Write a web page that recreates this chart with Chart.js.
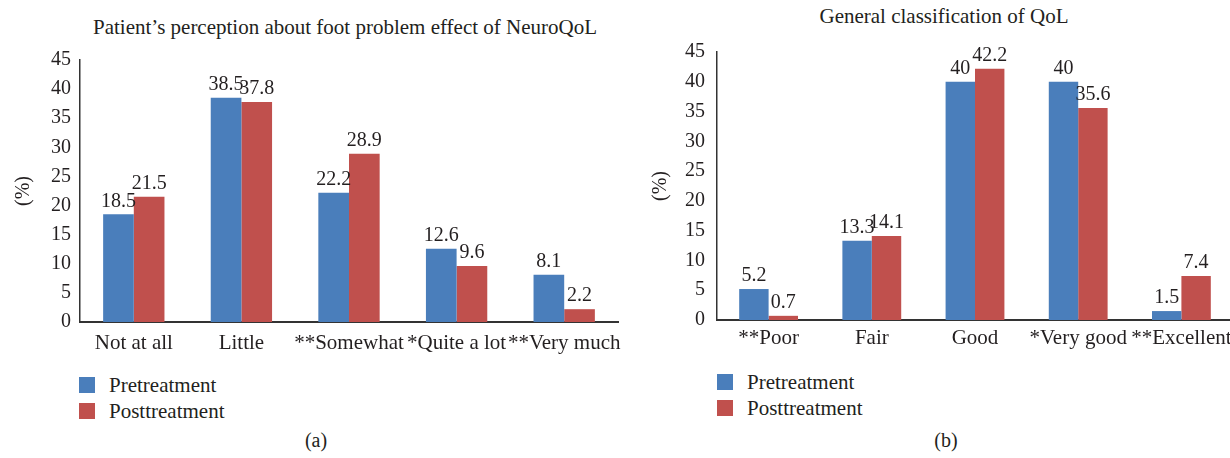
<!DOCTYPE html>
<html>
<head>
<meta charset="utf-8">
<script src="https://cdn.jsdelivr.net/npm/chart.js@4.4.1/dist/chart.umd.min.js"></script>
<style>
  html, body { margin: 0; padding: 0; background: #fff; overflow: hidden; }
  body { width: 1230px; height: 458px; position: relative; font-family: "Liberation Serif", serif; color: #231f20; }
  .box { position: absolute; }
  .title { position: absolute; font-size: 21px; white-space: nowrap; transform: translate(-50%, -50%); }
  .legend { position: absolute; font-size: 21px; }
  .legend .item { position: relative; height: 26px; line-height: 26px; padding-left: 30px; white-space: nowrap; }
  .legend .sw { position: absolute; left: 0; top: 5px; width: 16px; height: 16px; }
  .cap { position: absolute; font-size: 20px; transform: translate(-50%, -50%); }
</style>
</head>
<body>

<div class="title" style="left:345px; top:27px;">Patient’s perception about foot problem effect of NeuroQoL</div>
<div class="title" style="left:944px; top:16px;">General classification of QoL</div>

<div class="box" style="left:0; top:0;"><canvas id="chartA" width="640" height="360"></canvas></div>
<div class="box" style="left:620px; top:0;"><canvas id="chartB" width="640" height="360"></canvas></div>

<div class="legend" id="legendA" style="left:79px; top:372px;"></div>
<div class="legend" id="legendB" style="left:717px; top:369px;"></div>

<div class="cap" style="left:316px; top:440px;">(a)</div>
<div class="cap" style="left:946px; top:440px;">(b)</div>

<script>
// ---- data ----
const seriesNames = ['Pretreatment', 'Posttreatment'];
const seriesColors = ['#4a7ebb', '#c0504d'];

const neuroCategories = ['Not at all', 'Little', '**Somewhat', '*Quite a lot', '**Very much'];
const neuroPre = [18.5, 38.5, 22.2, 12.6, 8.1];
const neuroPost = [21.5, 37.8, 28.9, 9.6, 2.2];

const qolCategories = ['**Poor', 'Fair', 'Good', '*Very good', '**Excellent'];
const qolPre = [5.2, 13.3, 40, 40, 1.5];
const qolPost = [0.7, 14.1, 42.2, 35.6, 7.4];

const yTicks = [0, 5, 10, 15, 20, 25, 30, 35, 40, 45];

const FONT = '"Liberation Serif", serif';
const TEXT = '#231f20';
const AXIS = '#333333';

// draws the value above every bar
const barValueLabels = {
    id: 'barValueLabels',
    afterDatasetsDraw(chart) {
        const ctx = chart.ctx;
        ctx.save();
        ctx.font = '20px ' + FONT;
        ctx.fillStyle = TEXT;
        ctx.textAlign = 'center';
        ctx.textBaseline = 'bottom';
        chart.data.datasets.forEach((ds, i) => {
            chart.getDatasetMeta(i).data.forEach((bar, j) => {
                ctx.fillText(String(ds.data[j]), bar.x, bar.y - 3);
            });
        });
        ctx.restore();
    }
};

function makeChart(id, categories, pre, post, geo) {
    const ctx = document.getElementById(id);
    return new Chart(ctx, {
        type: 'bar',
        data: {
            labels: categories,
            datasets: [pre, post].map((vals, i) => ({
                label: seriesNames[i],
                data: vals,
                backgroundColor: seriesColors[i],
                borderWidth: 0,
                categoryPercentage: 0.57,
                barPercentage: 1.0
            }))
        },
        options: {
            responsive: false,
            devicePixelRatio: 1,
            animation: false,
            events: [],
            layout: { padding: { top: geo.top, left: 0, right: geo.right, bottom: 0 } },
            plugins: {
                legend: { display: false },
                title: { display: false },
                tooltip: { enabled: false }
            },
            scales: {
                x: {
                    grid: { display: false, drawTicks: false },
                    border: { display: true, color: AXIS, width: 2 },
                    ticks: {
                        color: TEXT,
                        font: { family: FONT, size: 21 },
                        padding: geo.xPad,
                        maxRotation: 0,
                        autoSkip: false
                    },
                    afterFit(scale) { scale.height = geo.xHeight; }
                },
                y: {
                    min: 0,
                    max: 45,
                    afterBuildTicks(scale) { scale.ticks = yTicks.map(v => ({ value: v })); },
                    grid: { display: false, drawTicks: false },
                    border: { display: true, color: AXIS, width: 1.5 },
                    ticks: {
                        color: TEXT,
                        font: { family: FONT, size: 20 },
                        padding: geo.yPad
                    },
                    title: {
                        display: true,
                        text: '(%)',
                        color: TEXT,
                        font: { family: FONT, size: 20 },
                        padding: { top: geo.titlePad, bottom: 0 }
                    },
                    afterFit(scale) { scale.width = geo.yWidth; }
                }
            }
        },
        plugins: [barValueLabels]
    });
}

function makeLegend(id) {
    const el = document.getElementById(id);
    seriesNames.forEach((name, i) => {
        const item = document.createElement('div');
        item.className = 'item';
        const sw = document.createElement('span');
        sw.className = 'sw';
        sw.style.background = seriesColors[i];
        item.appendChild(sw);
        item.appendChild(document.createTextNode(name));
        el.appendChild(item);
    });
}

makeChart('chartA', neuroCategories, neuroPre, neuroPost,
    { top: 60, right: 22, yWidth: 80, xHeight: 38, xPad: 9, yPad: 9, titlePad: 12 });
makeChart('chartB', qolCategories, qolPre, qolPost,
    { top: 52, right: 27, yWidth: 97, xHeight: 40, xPad: 6, yPad: 12, titlePad: 29 });

makeLegend('legendA');
makeLegend('legendB');
</script>
</body>
</html>
